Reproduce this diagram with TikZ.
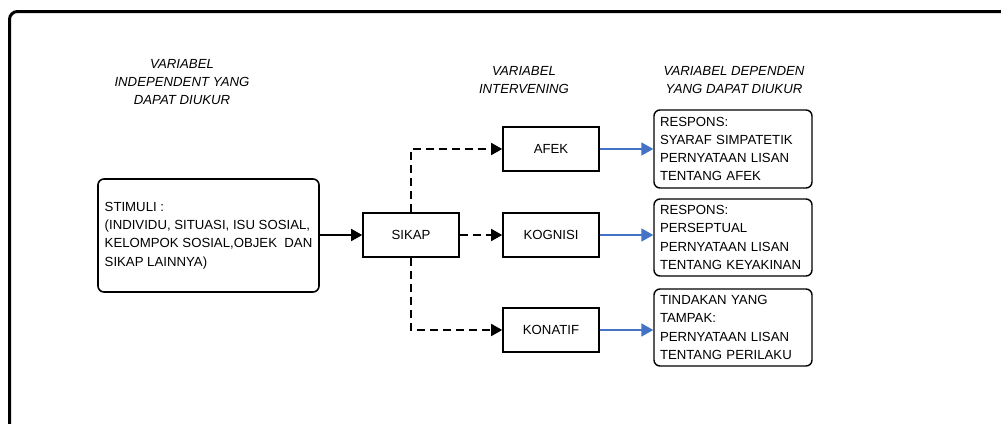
\documentclass[tikz,border=0pt]{standalone}
\usepackage{fontspec}
\setmainfont{Liberation Sans}
\usetikzlibrary{arrows.meta}
\definecolor{arrowblue}{HTML}{4472C4}
\begin{document}
\begin{tikzpicture}[x=1pt,y=-1pt,
  every node/.style={font=\fontsize{13.2}{18.3}\selectfont},
  box/.style={draw, line width=1.6pt, minimum width=96pt, minimum height=44pt, inner sep=0pt},
  rbox/.style={draw, line width=1.4pt, rounded corners=6pt, align=left, inner xsep=6pt, inner ysep=0pt, text width=146pt, minimum height=77pt},
  sbox/.style={draw, line width=1.6pt, rounded corners=6pt, align=left, inner sep=0pt, minimum width=221pt, minimum height=113pt},
  title/.style={font=\fontsize{13.2}{18.3}\selectfont\itshape, align=center, anchor=north, inner sep=0pt},
  solidarrow/.style={line width=1.6pt, -{Triangle[length=11pt,width=12pt]}},
  dasharrow/.style={solidarrow, dash pattern=on 8pt off 5pt},
  bluearrow/.style={draw=arrowblue, line width=1.6pt, -{Triangle[length=12pt,width=13pt]}}
]
\useasboundingbox (0,0) rectangle (1001,423);
\clip (0,0) rectangle (1001,423);
\fill[white] (0,0) rectangle (1001,423);
\draw[line width=3pt, rounded corners=8pt] (9.5,460) -- (9.5,11.5) -- (1040,11.5);

\node[title] (t1) at (182,59) {VARIABEL\\INDEPENDENT YANG\\DAPAT DIUKUR};
\node[title] (t2) at (524,66) {VARIABEL\\INTERVENING};
\node[title] (t3) at (734,66) {VARIABEL DEPENDEN\\YANG DAPAT DIUKUR};

\node[sbox] (stim) at (208.5,235.5) {STIMULI :\\(INDIVIDU, SITUASI, ISU SOSIAL,\\KELOMPOK SOSIAL,OBJEK\ \ DAN\\SIKAP LAINNYA)};
\node[box] (sikap) at (411,235) {SIKAP};
\node[box] (afek) at (551,149) {AFEK};
\node[box] (kognisi) at (551,235) {KOGNISI};
\node[box] (konatif) at (551,330) {KONATIF};

\node[rbox, minimum height=78pt] (r1) at (733,149) {RESPONS:\\SYARAF SIMPATETIK\\PERNYATAAN LISAN\\TENTANG AFEK};
\node[rbox] (r2) at (733,237.5) {RESPONS:\\PERSEPTUAL\\PERNYATAAN LISAN\\TENTANG KEYAKINAN};
\node[rbox] (r3) at (733,327.5) {TINDAKAN YANG\\TAMPAK:\\PERNYATAAN LISAN\\TENTANG PERILAKU};

\draw[solidarrow] (stim.east |- sikap.west) -- (sikap.west);
\draw[dasharrow] (sikap.east) -- (kognisi.west);
\draw[dasharrow] (sikap.north) |- (afek.west);
\draw[dasharrow] (sikap.south) |- (konatif.west);

\draw[bluearrow] (afek.east) -- (afek.east -| r1.west);
\draw[bluearrow] (kognisi.east) -- (kognisi.east -| r2.west);
\draw[bluearrow] (konatif.east) -- (konatif.east -| r3.west);
\end{tikzpicture}
\end{document}
